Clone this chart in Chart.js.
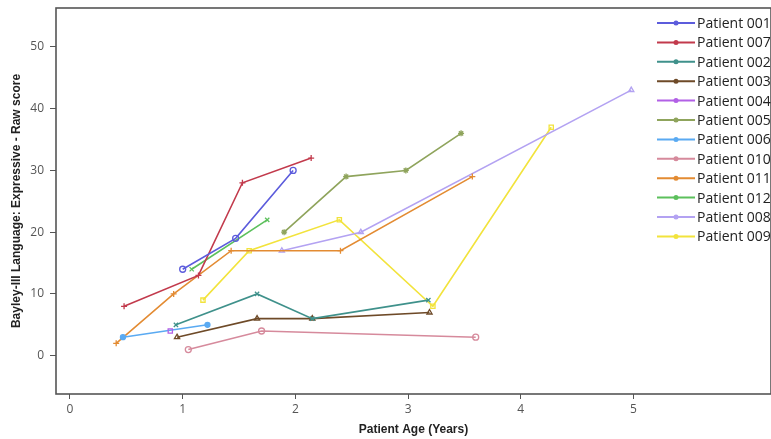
<!DOCTYPE html>
<html>
<head>
<meta charset="utf-8">
<script src="https://cdn.jsdelivr.net/npm/chart.js@4.4.1/dist/chart.umd.min.js"></script>
<style>
  html, body { margin: 0; padding: 0; background: #fff; }
  #wrap { width: 771px; height: 439px; position: relative; }
</style>
</head>
<body>
<div id="wrap"><canvas id="bayley" width="771" height="439"></canvas></div>
<script>
// Bayley-III expressive language raw score vs. patient age, one line per patient.

const patientNames = [
  'Patient 001', 'Patient 007', 'Patient 002', 'Patient 003', 'Patient 004', 'Patient 005',
  'Patient 006', 'Patient 010', 'Patient 011', 'Patient 012', 'Patient 008', 'Patient 009',
];

// age in years for each visit, same order as patientNames
const ageYears = [
  [1.0, 1.47, 1.98],
  [0.48, 1.14, 1.53, 2.14],
  [0.94, 1.66, 2.15, 3.18],
  [0.95, 1.66, 2.15, 3.19],
  [0.89],
  [1.9, 2.45, 2.98, 3.47],
  [0.47, 1.22],
  [1.05, 1.7, 3.6],
  [0.41, 0.92, 1.43, 2.4, 3.57],
  [1.08, 1.75],
  [1.88, 2.58, 4.98],
  [1.18, 1.59, 2.39, 3.22, 4.27],
];

const rawScores = [
  [14, 19, 30],
  [8, 13, 28, 32],
  [5, 10, 6, 9],
  [3, 6, 6, 7],
  [4],
  [20, 29, 30, 36],
  [3, 5],
  [1, 4, 3],
  [2, 10, 17, 17, 29],
  [14, 22],
  [17, 20, 43],
  [9, 17, 22, 8, 37],
];

const xTicks = [0, 1, 2, 3, 4, 5];
const yTicks = [0, 10, 20, 30, 40, 50];

const lineColors = [
  '#5c5cdc', '#c23a4c', '#3f918b', '#6e4a28', '#b260e6', '#8fa45c',
  '#5aaaf2', '#d68a9c', '#e38b32', '#5cc05c', '#b3a2f2', '#f2e33c',
];
const markers = [
  'circle', 'cross', 'crossRot', 'triangle', 'rect', 'star',
  'circle', 'circle', 'cross', 'crossRot', 'triangle', 'rect',
];
const hollow = [true, false, false, true, true, false, false, true, false, false, true, true];

const datasets = patientNames.map((name, i) => ({
  label: name,
  data: ageYears[i].map((x, j) => ({ x, y: rawScores[i][j] })),
  showLine: true,
  borderColor: lineColors[i],
  borderWidth: 1.6,
  pointStyle: markers[i],
  pointRadius: markers[i] === 'circle' && !hollow[i] ? 2.5 : 3,
  pointBorderColor: lineColors[i],
  pointBorderWidth: 1.3,
  pointBackgroundColor: hollow[i] ? 'rgba(255,255,255,0)' : lineColors[i],
  tension: 0,
}));

// outer frame around the plot area
const framePlugin = {
  id: 'frame',
  afterDraw(chart) {
    const { ctx, chartArea: a } = chart;
    ctx.save();
    ctx.strokeStyle = '#555';
    ctx.lineWidth = 1.6;
    ctx.strokeRect(a.left, a.top, a.right - a.left, a.bottom - a.top);
    ctx.restore();
  },
};

// legend with a short line and marker, as in the original figure
const sideLegend = {
  id: 'sideLegend',
  afterDraw(chart) {
    const { ctx } = chart;
    const x0 = 657, x1 = 695, top = 23, step = 19.4;
    ctx.save();
    ctx.font = '14px "Open Sans"';
    ctx.textBaseline = 'middle';
    chart.data.datasets.forEach((ds, i) => {
      const y = top + i * step;
      ctx.strokeStyle = ds.borderColor;
      ctx.lineWidth = 2;
      ctx.beginPath();
      ctx.moveTo(x0, y);
      ctx.lineTo(x1, y);
      ctx.stroke();
      ctx.fillStyle = ds.borderColor;
      ctx.beginPath();
      ctx.arc((x0 + x1) / 2, y, 2.5, 0, Math.PI * 2);
      ctx.fill();
      ctx.fillStyle = '#222';
      ctx.fillText(ds.label, 697, y + 1);
    });
    ctx.restore();
  },
};

new Chart(document.getElementById('bayley'), {
  type: 'scatter',
  data: { datasets },
  options: {
    responsive: false,
    animation: false,
    layout: { autoPadding: false, padding: { top: 8, left: 0, right: 0, bottom: 0 } },
    plugins: {
      legend: { display: false },
      tooltip: { enabled: false },
    },
    scales: {
      x: {
        type: 'linear',
        min: -0.124,
        max: 6.22,
        afterFit: s => { s.height = 45; s.paddingLeft = 0; s.paddingRight = 0; },
        afterBuildTicks: s => { s.ticks = xTicks.map(v => ({ value: v })); },
        grid: { drawOnChartArea: false, drawTicks: true, tickLength: 5, tickColor: '#555' },
        border: { display: false },
        ticks: { color: '#555', padding: 3, font: { family: '"Open Sans"', size: 12 } },
        title: {
          display: true,
          text: 'Patient Age (Years)',
          color: '#222',
          padding: { top: 0, bottom: 2 },
          font: { family: '"Liberation Sans"', size: 12, weight: 'bold' },
        },
      },
      y: {
        type: 'linear',
        min: -6.2,
        max: 56.3,
        afterFit: s => { s.width = 56; s.paddingTop = 0; s.paddingBottom = 0; },
        afterBuildTicks: s => { s.ticks = yTicks.map(v => ({ value: v })); },
        grid: { drawOnChartArea: false, drawTicks: true, tickLength: 6, tickColor: '#555' },
        border: { display: false },
        ticks: { color: '#555', padding: 6, font: { family: '"Open Sans"', size: 12 } },
        title: {
          display: true,
          text: 'Bayley-III Language: Expressive - Raw score',
          color: '#222',
          padding: { top: 9, bottom: 0 },
          font: { family: '"Liberation Sans"', size: 12, weight: 'bold' },
        },
      },
    },
  },
  plugins: [framePlugin, sideLegend],
});
</script>
</body>
</html>
